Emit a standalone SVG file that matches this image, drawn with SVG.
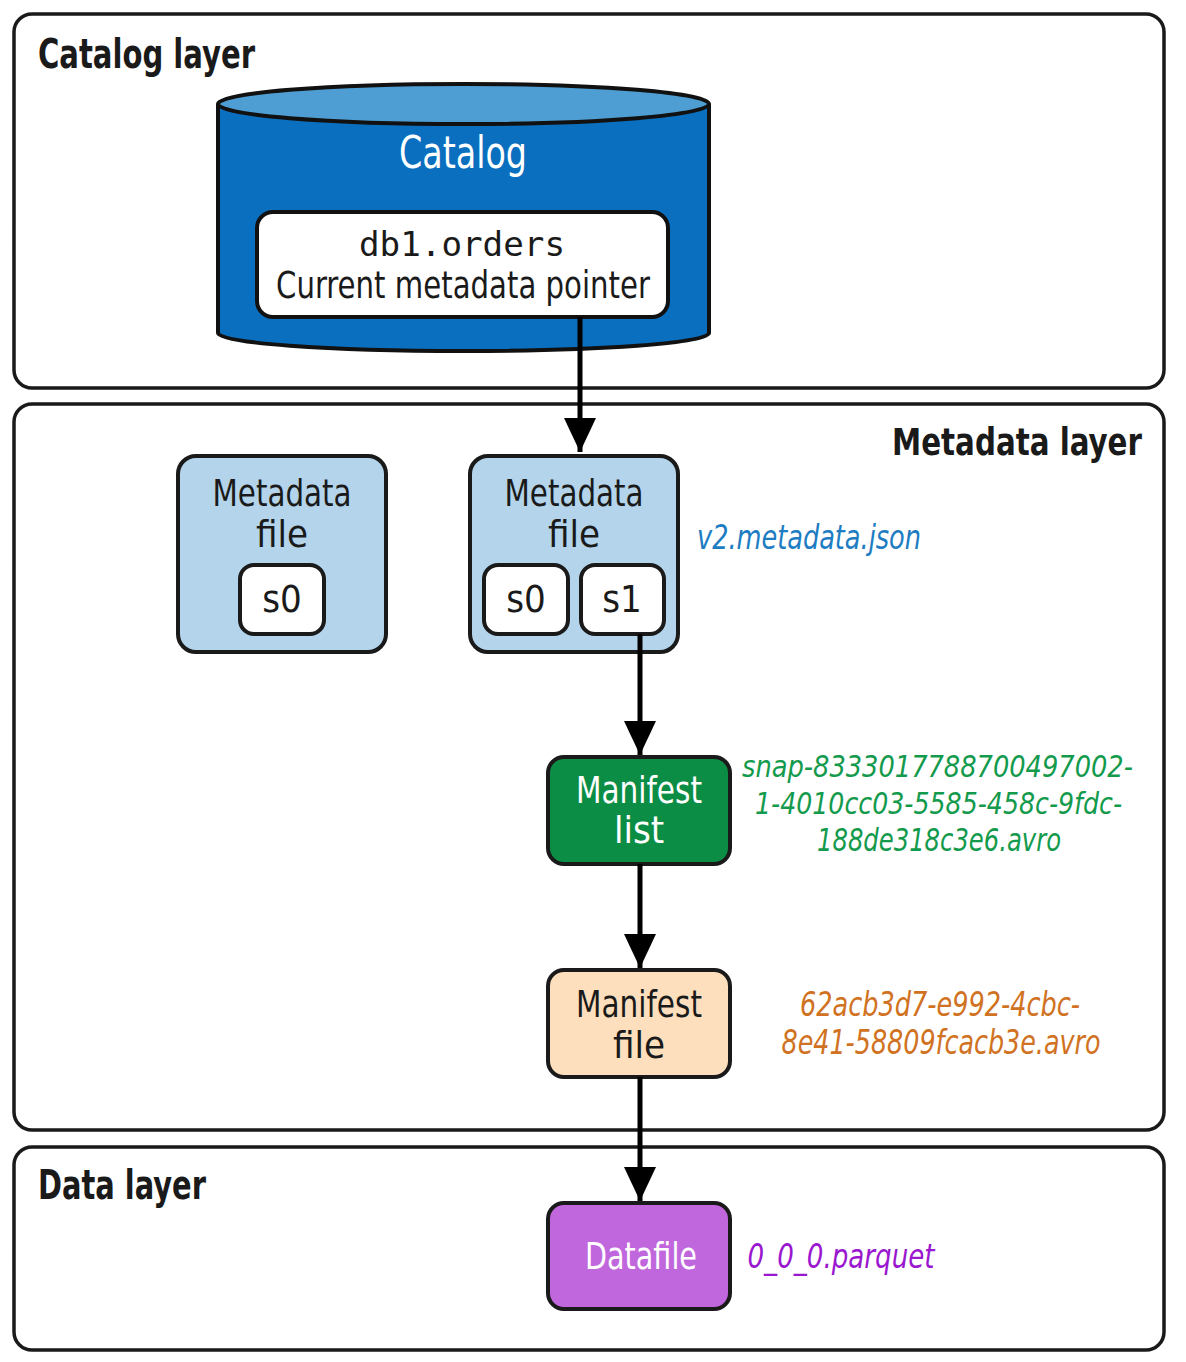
<svg xmlns="http://www.w3.org/2000/svg" width="1186" height="1362" viewBox="0 0 1186 1362">
<style>
.layer{fill:#fff;stroke:#1a1a1a;stroke-width:3.5}
.ttl{font-family:"Liberation Sans Narrow","DejaVu Sans Condensed","Liberation Sans",sans-serif;font-stretch:condensed;font-weight:bold;font-size:40px;fill:#1a1a1a}
.lbl{font-family:"Liberation Sans Narrow","DejaVu Sans Condensed","Liberation Sans",sans-serif;font-stretch:condensed;font-size:38px;fill:#1a1a1a;text-anchor:middle}
.it{font-family:"Liberation Sans Narrow","DejaVu Sans Condensed","Liberation Sans",sans-serif;font-stretch:condensed;font-style:italic;font-size:34px;text-anchor:middle}
.node{stroke:#1a1a1a;stroke-width:4}
.mono{font-family:"DejaVu Sans Mono","Liberation Mono",monospace;font-size:33px;fill:#1a1a1a;text-anchor:middle}
.conn{stroke:#000;stroke-width:5;fill:none}
</style>
<defs>
<marker id="arr" markerUnits="userSpaceOnUse" markerWidth="36" markerHeight="32" refX="34" refY="16" orient="auto">
<path d="M0,0 L34,16 L0,32 Z" fill="#000"/>
</marker>
</defs>

<g id="catalog-layer">
<rect class="layer" x="14" y="14" width="1150" height="374" rx="18"/>
<text class="ttl" x="38" y="68" textLength="217" lengthAdjust="spacingAndGlyphs">Catalog layer</text>
</g>
<g id="metadata-layer">
<rect class="layer" x="14" y="404" width="1150" height="726" rx="18"/>
<text class="ttl" x="892" y="455" style="font-size:37px" textLength="250" lengthAdjust="spacingAndGlyphs">Metadata layer</text>
</g>
<g id="data-layer">
<rect class="layer" x="14" y="1147" width="1150" height="203" rx="18"/>
<text class="ttl" x="38" y="1199" textLength="168" lengthAdjust="spacingAndGlyphs">Data layer</text>
</g>

<g id="catalog">
<path d="M218,104 L218,333 A245.5,18 0 0 0 709,333 L709,104" fill="#0a6fbf" stroke="#111" stroke-width="4"/>
<ellipse cx="463.5" cy="104" rx="245.5" ry="20" fill="#4e9ed4" stroke="#111" stroke-width="4"/>
<text class="lbl" x="463" y="168" style="fill:#fff;font-size:44px" textLength="128" lengthAdjust="spacingAndGlyphs">Catalog</text>
<rect x="257" y="212" width="411" height="105" rx="16" fill="#fff" stroke="#111" stroke-width="4"/>
<text class="mono" x="462" y="256" textLength="206" lengthAdjust="spacingAndGlyphs">db1.orders</text>
<text class="lbl" x="463" y="298" style="font-size:37px" textLength="374" lengthAdjust="spacingAndGlyphs">Current metadata pointer</text>
</g>

<g id="metadata-file-1">
<rect class="node" x="178" y="456" width="208" height="196" rx="18" fill="#b3d4eb"/>
<text class="lbl" x="282" y="506" textLength="139" lengthAdjust="spacingAndGlyphs">Metadata</text>
<text class="lbl" x="282" y="547">file</text>
<rect class="node" x="240" y="565" width="84" height="69" rx="14" fill="#fff"/>
<text class="lbl" x="282" y="612">s0</text>
</g>

<g id="metadata-file-2">
<rect class="node" x="470" y="456" width="208" height="196" rx="18" fill="#b3d4eb"/>
<text class="lbl" x="574" y="506" textLength="139" lengthAdjust="spacingAndGlyphs">Metadata</text>
<text class="lbl" x="574" y="547">file</text>
<rect class="node" x="484" y="565" width="84" height="69" rx="14" fill="#fff"/>
<text class="lbl" x="526" y="612">s0</text>
<rect class="node" x="581" y="565" width="83" height="69" rx="14" fill="#fff"/>
<text class="lbl" x="622" y="612">s1</text>
<text class="it" x="809" y="549" style="fill:#1d7cc2" textLength="224" lengthAdjust="spacingAndGlyphs">v2.metadata.json</text>
</g>

<g id="manifest-list">
<rect class="node" x="548" y="757" width="182" height="107" rx="16" fill="#0b8d45"/>
<text class="lbl" x="639" y="803" style="fill:#fff" textLength="126" lengthAdjust="spacingAndGlyphs">Manifest</text>
<text class="lbl" x="639" y="843" style="fill:#fff">list</text>
<text class="it" x="742" y="777" style="fill:#139a4c;text-anchor:start;font-size:31px" textLength="391" lengthAdjust="spacingAndGlyphs">snap-8333017788700497002-</text>
<text class="it" x="755" y="814" style="fill:#139a4c;text-anchor:start;font-size:31px" textLength="367" lengthAdjust="spacingAndGlyphs">1-4010cc03-5585-458c-9fdc-</text>
<text class="it" x="939" y="851" style="fill:#139a4c;font-size:32px" textLength="244" lengthAdjust="spacingAndGlyphs">188de318c3e6.avro</text>
</g>

<g id="manifest-file">
<rect class="node" x="548" y="970" width="182" height="107" rx="16" fill="#fddfbd"/>
<text class="lbl" x="639" y="1017" textLength="126" lengthAdjust="spacingAndGlyphs">Manifest</text>
<text class="lbl" x="639" y="1058">file</text>
<text class="it" x="940" y="1016" style="fill:#d07222" textLength="280" lengthAdjust="spacingAndGlyphs">62acb3d7-e992-4cbc-</text>
<text class="it" x="941" y="1054" style="fill:#d07222" textLength="319" lengthAdjust="spacingAndGlyphs">8e41-58809fcacb3e.avro</text>
</g>

<g id="datafile">
<rect class="node" x="548" y="1203" width="182" height="106" rx="16" fill="#c167dd"/>
<text class="lbl" x="641" y="1269" style="fill:#fff" textLength="112" lengthAdjust="spacingAndGlyphs">Datafile</text>
<text class="it" x="841" y="1268" style="fill:#9a17cf" textLength="187" lengthAdjust="spacingAndGlyphs">0_0_0.parquet</text>
</g>

<g id="connectors">
<line class="conn" x1="580" y1="317" x2="580" y2="452" marker-end="url(#arr)"/>
<line class="conn" x1="640" y1="634" x2="640" y2="755" marker-end="url(#arr)"/>
<line class="conn" x1="640" y1="864" x2="640" y2="968" marker-end="url(#arr)"/>
<line class="conn" x1="640" y1="1077" x2="640" y2="1201" marker-end="url(#arr)"/>
</g>
</svg>
